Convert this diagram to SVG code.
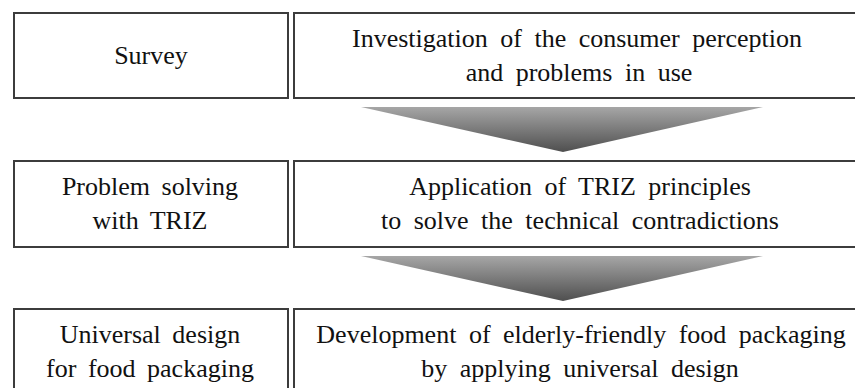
<svg xmlns="http://www.w3.org/2000/svg" width="855" height="388" viewBox="0 0 855 388">
  <style>
    .box { fill: #ffffff; stroke: #3c3c3c; stroke-width: 2; }
    .t { font-family: 'Liberation Serif', 'DejaVu Serif', serif; font-size: 26px; fill: #111111; text-anchor: middle; }
    .arrow { fill: url(#grad); }
  </style>
  <defs>
    <linearGradient id="grad" x1="0" y1="0" x2="0" y2="1">
      <stop offset="0" stop-color="#a6a6a6"/>
      <stop offset="1" stop-color="#4f4f4f"/>
    </linearGradient>
  </defs>
  <rect width="855" height="388" fill="#ffffff"/>

  <g id="survey">
    <rect class="box" x="14" y="13" width="274" height="85"/>
    <text class="t" x="151" y="64" font-family="Liberation Serif, DejaVu Serif, serif">Survey</text>
  </g>
  <g id="investigation">
    <rect class="box" x="294" y="13" width="570" height="85"/>
    <text class="t" x="577" y="47" word-spacing="6" font-family="Liberation Serif, DejaVu Serif, serif">Investigation of the consumer perception</text>
    <text class="t" x="579" y="81" word-spacing="6" font-family="Liberation Serif, DejaVu Serif, serif">and problems in use</text>
  </g>

  <g id="problem-solving">
    <rect class="box" x="14" y="161" width="274" height="86"/>
    <text class="t" x="150" y="195" word-spacing="5" font-family="Liberation Serif, DejaVu Serif, serif">Problem solving</text>
    <text class="t" x="150" y="229" word-spacing="5" font-family="Liberation Serif, DejaVu Serif, serif">with TRIZ</text>
  </g>
  <g id="triz">
    <rect class="box" x="294" y="161" width="570" height="86"/>
    <text class="t" x="580" y="195" word-spacing="6" font-family="Liberation Serif, DejaVu Serif, serif">Application of TRIZ principles</text>
    <text class="t" x="580" y="229" word-spacing="6" font-family="Liberation Serif, DejaVu Serif, serif">to solve the technical contradictions</text>
  </g>

  <g id="universal-design">
    <rect class="box" x="14" y="309" width="274" height="100"/>
    <text class="t" x="150" y="343" word-spacing="5" font-family="Liberation Serif, DejaVu Serif, serif">Universal design</text>
    <text class="t" x="150" y="377" word-spacing="5" font-family="Liberation Serif, DejaVu Serif, serif">for food packaging</text>
  </g>
  <g id="development">
    <rect class="box" x="294" y="309" width="570" height="100"/>
    <text class="t" x="581" y="343" word-spacing="6" font-family="Liberation Serif, DejaVu Serif, serif">Development of elderly-friendly food packaging</text>
    <text class="t" x="580" y="377" word-spacing="6" font-family="Liberation Serif, DejaVu Serif, serif">by applying universal design</text>
  </g>

  <g id="connectors">
    <polygon class="arrow" points="361,107 763,107 563,152"/>
    <polygon class="arrow" points="361,256 763,256 563,301"/>
  </g>
</svg>
